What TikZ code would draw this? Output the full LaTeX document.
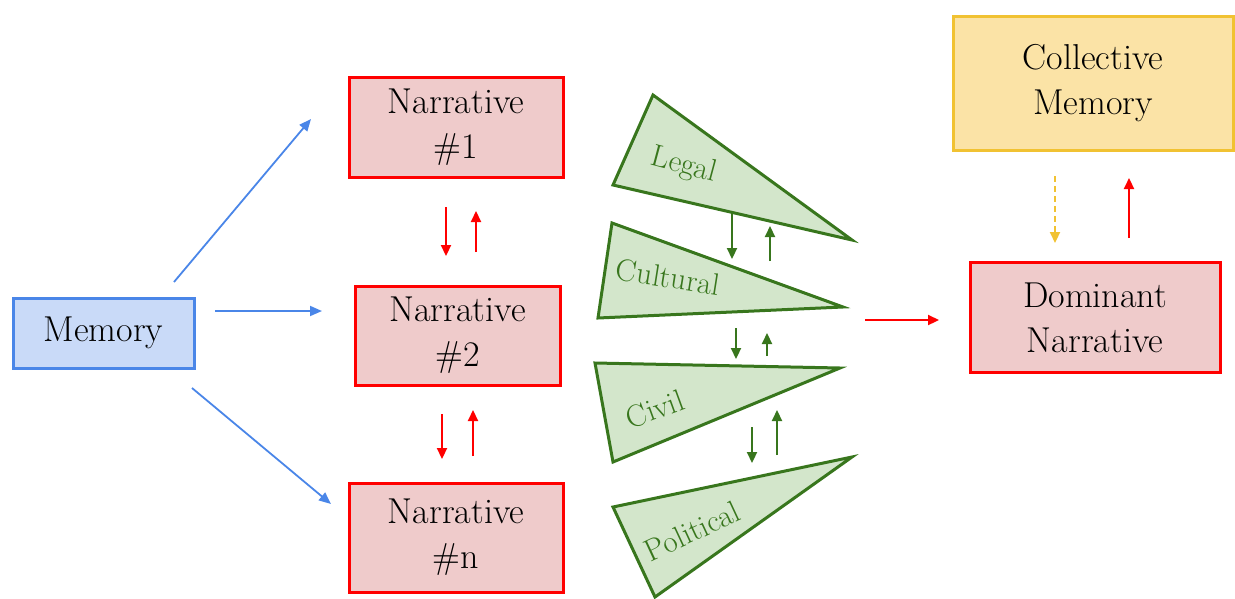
\documentclass[tikz,border=0pt]{standalone}
\usetikzlibrary{arrows.meta}
\definecolor{redline}{HTML}{FF0000}
\definecolor{redfill}{HTML}{EFCBCB}
\definecolor{blueline}{HTML}{4A86E8}
\definecolor{bluefill}{HTML}{C9DAF8}
\definecolor{yelline}{HTML}{F1C232}
\definecolor{yelfill}{HTML}{FBE3A6}
\definecolor{grnline}{HTML}{38761D}
\definecolor{grnfill}{HTML}{D3E6CB}
\begin{document}
\begin{tikzpicture}[x=1pt,y=-1pt,
  box/.style={draw, line width=3pt, rectangle, align=center, inner sep=0pt,
    font=\fontsize{36}{45}\selectfont},
  redbox/.style={box, draw=redline, fill=redfill},
  tri/.style={draw=grnline, fill=grnfill, line width=3pt, line join=miter},
  tlabel/.style={text=grnline, font=\fontsize{31}{33}\selectfont, inner sep=0pt},
  arr/.style={line width=2.2pt, -{Triangle[length=11pt,width=10pt]}},
  bluearr/.style={arr, draw=blueline, line width=1.8pt, -{Triangle[length=12pt,width=10pt]}},
  redarr/.style={arr, draw=redline},
  grnarr/.style={arr, draw=grnline},
  yelarr/.style={arr, draw=yelline, dashed, dash pattern=on 6pt off 4pt}
]
\useasboundingbox (0,0) rectangle (1235,598);

% boxes
\node[box, draw=blueline, fill=bluefill, minimum width=181pt, minimum height=70pt] (mem) at (103.5,333) {Memory};
\node[redbox, minimum width=214pt, minimum height=100pt] (n1) at (456,127) {Narrative\\\#1};
\node[redbox, minimum width=205pt, minimum height=99pt] (n2) at (457.5,335.5) {Narrative\\\#2};
\node[redbox, minimum width=214pt, minimum height=109pt] (nn) at (456,537.5) {Narrative\\\#n};
\node[redbox, minimum width=250pt, minimum height=110pt] (dom) at (1095,317.5) {Dominant\\Narrative};
\node[box, draw=yelline, fill=yelfill, minimum width=280pt, minimum height=134pt] (col) at (1093,83) {Collective\\Memory};

% triangles
\draw[tri] (653,95) -- (613,185) -- (852,240) -- cycle;
\draw[tri] (612,223) -- (598,318) -- (843,307) -- cycle;
\draw[tri] (595,363) -- (840,368) -- (613,462) -- cycle;
\draw[tri] (613,507) -- (852,457) -- (655,597) -- cycle;
\node[tlabel, rotate=-15] (lleg) at (684,166) {Legal};
\node[tlabel, rotate=-9] (lcul) at (668,277) {Cultural};
\node[tlabel, rotate=20] (lciv) at (655,409) {Civil};
\node[tlabel, rotate=25] (lpol) at (692,531) {Political};

% helper coordinates for arrow ends
\coordinate (m1s) at (174,282); \coordinate (m1e) at (311,119);
\coordinate (m2s) at (215,311); \coordinate (m2e) at (322,311);
\coordinate (m3s) at (192,388); \coordinate (m3e) at (331,504);

\coordinate (a1) at (446,207); \coordinate (a2) at (446,256);
\coordinate (a3) at (476,252); \coordinate (a4) at (476,211);
\coordinate (b1) at (442,414); \coordinate (b2) at (442,459);
\coordinate (b3) at (473,456); \coordinate (b4) at (473,410);

\coordinate (g1) at (732,213); \coordinate (g2) at (732,259);
\coordinate (g3) at (770,261); \coordinate (g4) at (770,226);
\coordinate (h1) at (736,328); \coordinate (h2) at (736,359);
\coordinate (h3) at (767,356); \coordinate (h4) at (767,333);
\coordinate (k1) at (752,427); \coordinate (k2) at (752,463);
\coordinate (k3) at (777,455); \coordinate (k4) at (777,410);

\coordinate (d1) at (865,320); \coordinate (d2) at (939,320);
\coordinate (y1) at (1055,176); \coordinate (y2) at (1055,243);
\coordinate (r1) at (1129,238); \coordinate (r2) at (1129,178);

% arrows
\draw[bluearr] (m1s) -- (m1e);
\draw[bluearr] (m2s) -- (m2e);
\draw[bluearr] (m3s) -- (m3e);
\draw[redarr] (a1) -- (a2);
\draw[redarr] (a3) -- (a4);
\draw[redarr] (b1) -- (b2);
\draw[redarr] (b3) -- (b4);
\draw[grnarr] (g1) -- (g2);
\draw[grnarr] (g3) -- (g4);
\draw[grnarr] (h1) -- (h2);
\draw[grnarr] (h3) -- (h4);
\draw[grnarr] (k1) -- (k2);
\draw[grnarr] (k3) -- (k4);
\draw[redarr] (d1) -- (d2);
\draw[yelarr] (y1) -- (y2);
\draw[redarr] (r1) -- (r2);
\end{tikzpicture}
\end{document}
